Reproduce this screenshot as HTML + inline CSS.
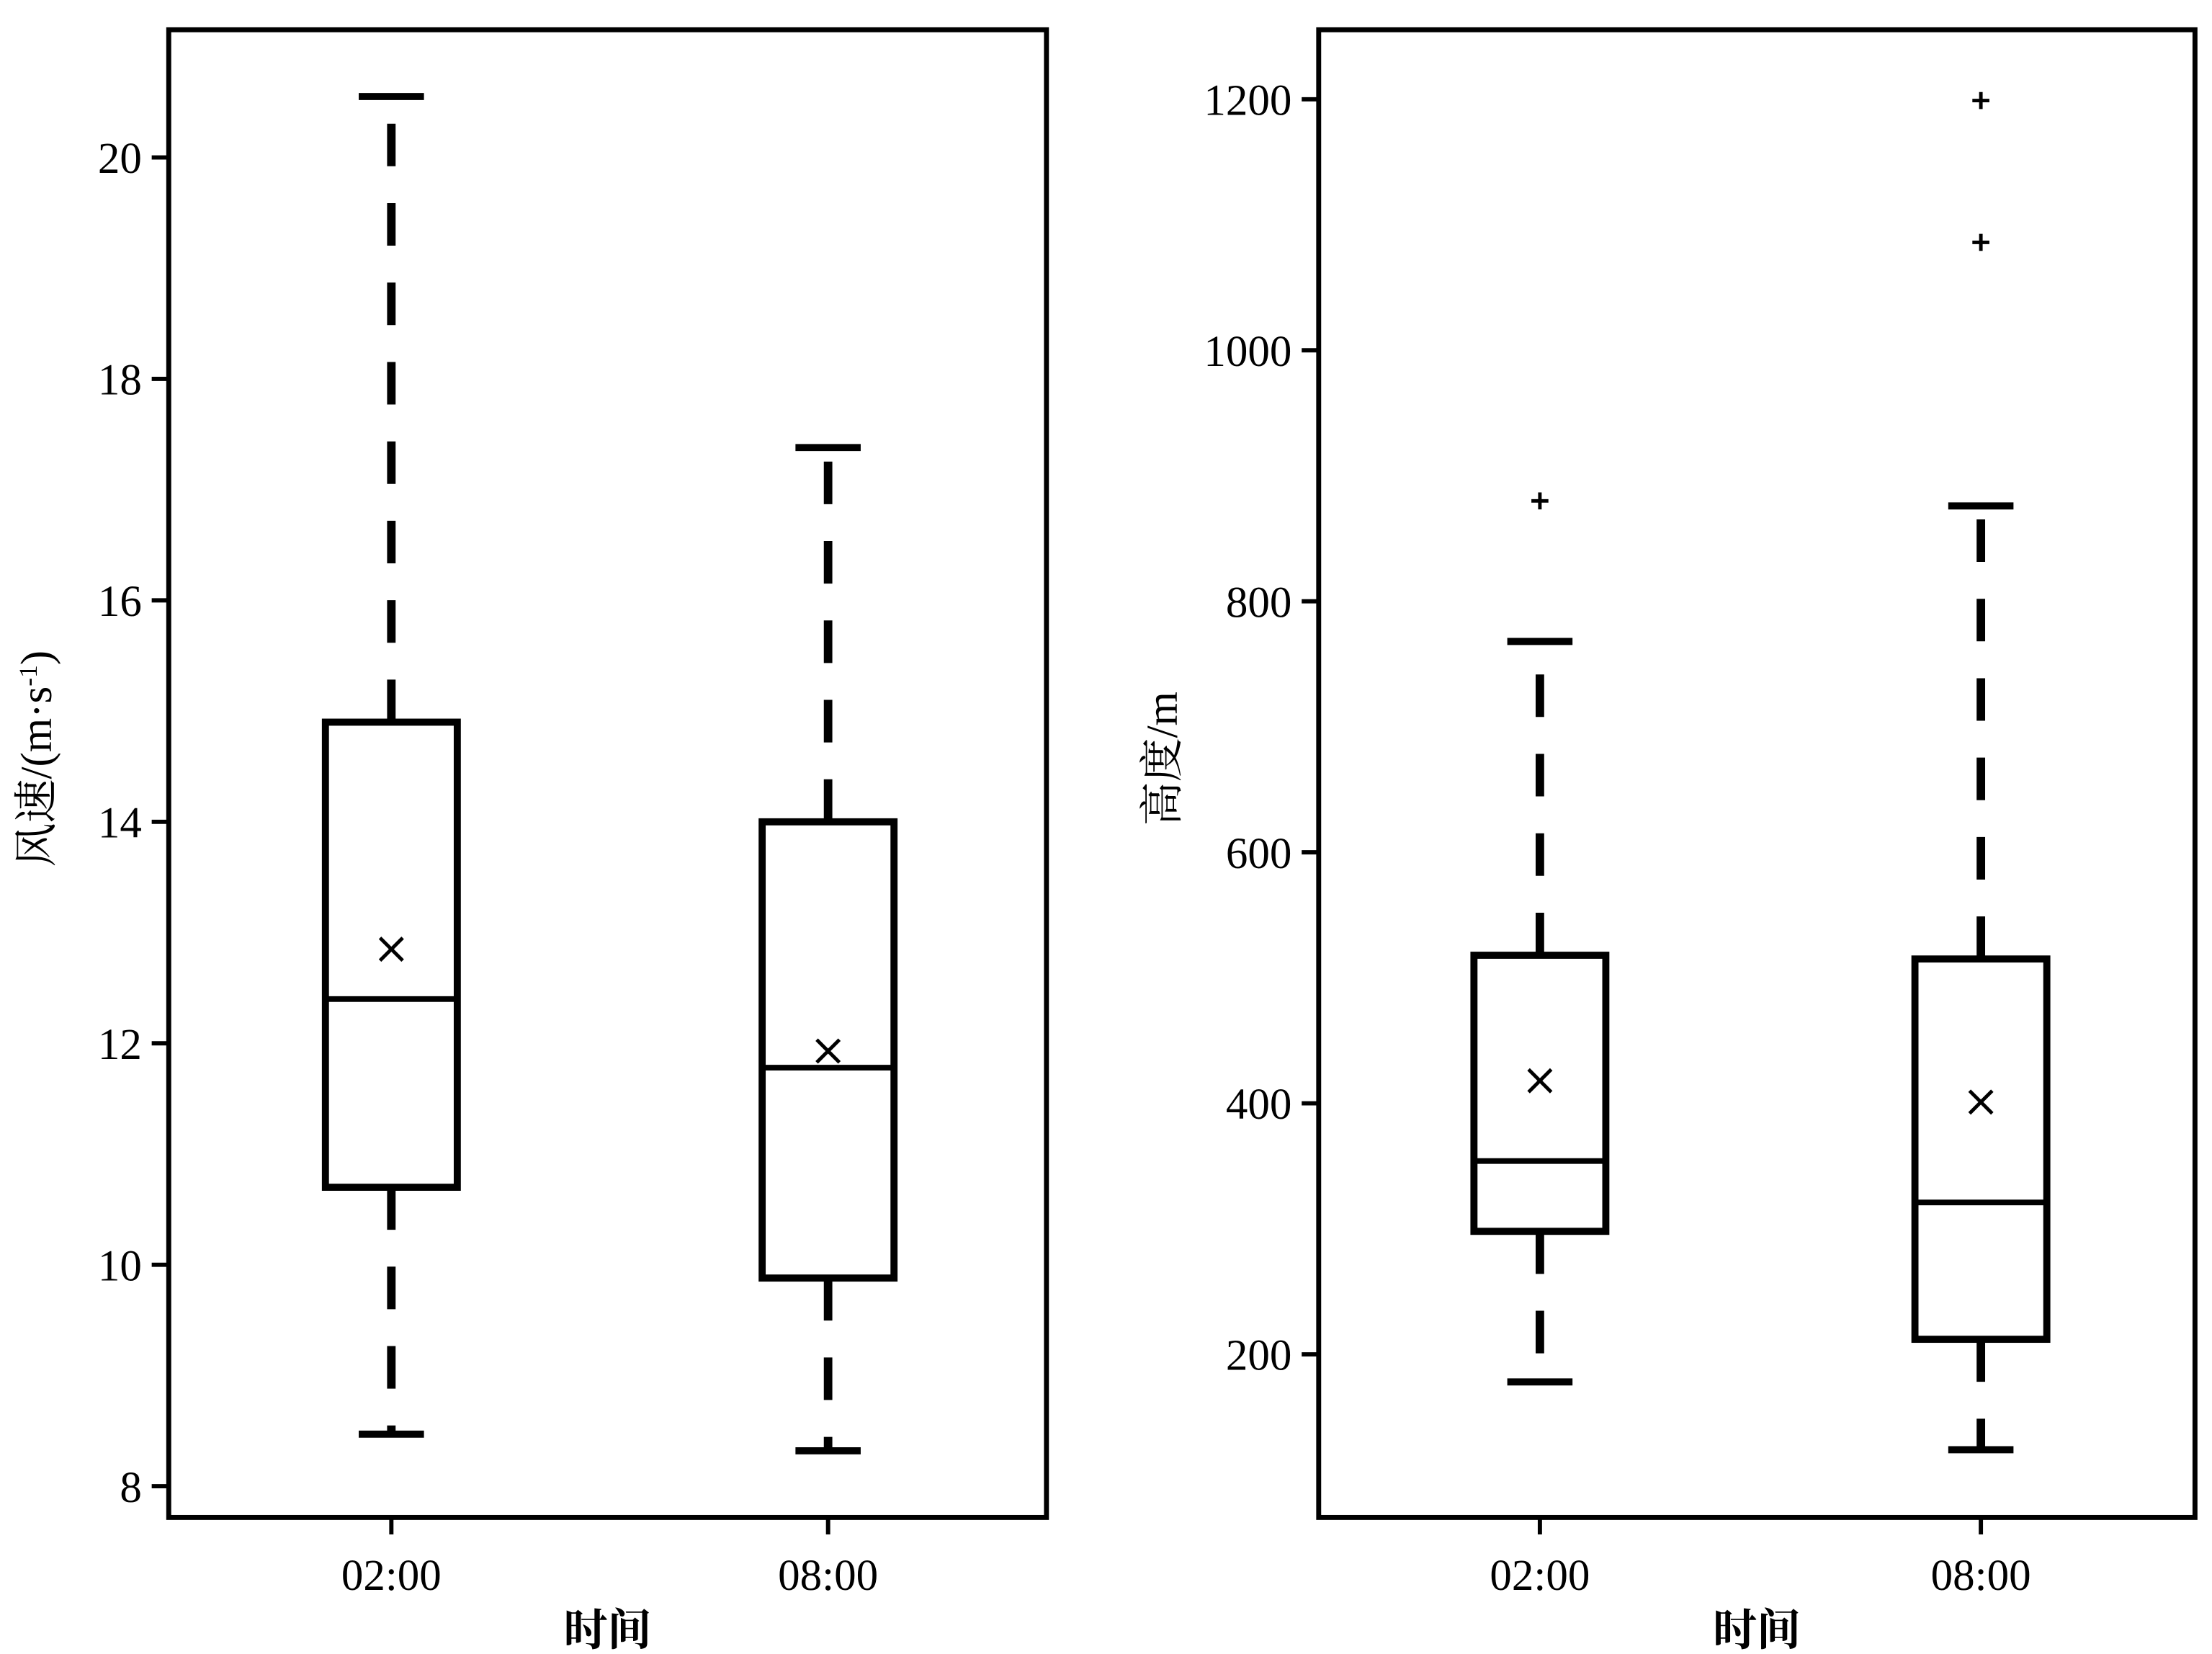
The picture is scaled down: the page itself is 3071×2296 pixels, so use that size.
<!DOCTYPE html>
<html><head><meta charset="utf-8"><style>
html,body{margin:0;padding:0;background:#fff;}
svg{display:block;}
text{font-family:"Liberation Serif","Noto Serif CJK SC",serif;fill:#000;}
</style></head><body>
<svg id="chart" width="3071" height="2296" viewBox="0 0 1560 1166.3" xmlns="http://www.w3.org/2000/svg"></svg>
<script>
const categories = ["02:00", "08:00"];
// Left panel: wind speed
const windTicks = [8, 10, 12, 14, 16, 18, 20];
const windQ1 = [10.7, 9.88];
const windMedian = [12.4, 11.78];
const windQ3 = [14.9, 14.0];
const windLow = [8.47, 8.32];
const windHigh = [20.55, 17.38];
const windMean = [12.85, 11.93];
const windOutliers = [[], []];
// Right panel: height
const heightTicks = [200, 400, 600, 800, 1000, 1200];
const heightQ1 = [298, 212];
const heightMedian = [354, 321];
const heightQ3 = [518, 515];
const heightLow = [178, 124];
const heightHigh = [768, 876];
const heightMean = [418, 401];
const heightOutliers = [[880], [1199, 1086]];

const NS = "http://www.w3.org/2000/svg";
const svg = document.getElementById("chart");
function mk(tag, attrs, parent) {
  const e = document.createElementNS(NS, tag);
  for (const k in attrs) e.setAttribute(k, attrs[k]);
  (parent || svg).appendChild(e);
  return e;
}

function panel(cfg) {
  const g = mk("g", {});
  
  
  const y = v => cfg.y0 + (v - cfg.v0) * (cfg.y1 - cfg.y0) / (cfg.v1 - cfg.v0);
  const x = i => cfg.cx[i];
  // frame
  const fr = mk("rect", {x: cfg.L, y: cfg.T, width: cfg.R - cfg.L, height: cfg.B - cfg.T, fill: "none", stroke: "#000", "stroke-width": 3.5}, g);
  
  
  // y ticks
  cfg.ticks.forEach(t => {
    const tk = mk("line", {x1: cfg.L - 12, x2: cfg.L, y1: y(t), y2: y(t), stroke: "#000", "stroke-width": 3}, g);
    
    
    const tl = mk("text", {x: cfg.L - 19, y: y(t) + 11, "text-anchor": "end", "font-size": 31}, g);
    
    
    tl.textContent = t;
  });
  // x ticks
  categories.forEach((c, i) => {
    const tk = mk("line", {x1: x(i), x2: x(i), y1: cfg.B, y2: cfg.B + 12, stroke: "#000", "stroke-width": 3}, g);
    
    
    const tl = mk("text", {x: x(i), y: 1121, "text-anchor": "middle", "font-size": 31}, g);
    
    
    tl.textContent = c;
  });
  const xt = mk("text", {x: (cfg.L + cfg.R) / 2, y: 1160, "text-anchor": "middle", "font-size": 31, "font-weight": "bold"}, g);
  
  
  xt.textContent = "时间";
  const yt = mk("text", {x: 0, y: 0, "text-anchor": "middle", "font-size": 31, transform: "translate(" + cfg.ytx + "," + cfg.yty + ") rotate(-90)"}, g);
  
  
  yt.innerHTML = cfg.ytitle;
  // boxes
  const hw = 46.5, cap = 23;
  categories.forEach((c, i) => {
    const bg = mk("g", {}, g);
    
    
    const ds = {stroke: "#000", "stroke-width": 6, "stroke-dasharray": "30 26"};
    const wu = mk("line", Object.assign({x1: x(i), x2: x(i), y1: y(cfg.q3[i]), y2: y(cfg.hi[i])}, ds), bg);
    
    
    const wl = mk("line", Object.assign({x1: x(i), x2: x(i), y1: y(cfg.q1[i]), y2: y(cfg.lo[i])}, ds), bg);
    
    
    const c1 = mk("line", {x1: x(i) - cap, x2: x(i) + cap, y1: y(cfg.hi[i]), y2: y(cfg.hi[i]), stroke: "#000", "stroke-width": 5}, bg);
    
    
    const c2 = mk("line", {x1: x(i) - cap, x2: x(i) + cap, y1: y(cfg.lo[i]), y2: y(cfg.lo[i]), stroke: "#000", "stroke-width": 5}, bg);
    
    
    const r = mk("rect", {x: x(i) - hw, y: y(cfg.q3[i]), width: 2 * hw, height: y(cfg.q1[i]) - y(cfg.q3[i]), fill: "#fff", stroke: "#000", "stroke-width": 5}, bg);
    
    
    const m = mk("line", {x1: x(i) - hw, x2: x(i) + hw, y1: y(cfg.med[i]), y2: y(cfg.med[i]), stroke: "#000", "stroke-width": 4}, bg);
    
    
    const my = y(cfg.mean[i]), s = 8;
    const mx = mk("path", {d: `M${x(i)-s},${my-s}L${x(i)+s},${my+s}M${x(i)+s},${my-s}L${x(i)-s},${my+s}`, stroke: "#000", "stroke-width": 2.5, fill: "none"}, bg);
    
    
    cfg.out[i].forEach(o => {
      const oy = y(o), p = 6;
      const om = mk("path", {d: `M${x(i)-p},${oy}L${x(i)+p},${oy}M${x(i)},${oy-p}L${x(i)},${oy+p}`, stroke: "#000", "stroke-width": 2.5, fill: "none"}, bg);
      
      
    });
  });
}

panel({name: "wind-speed-panel", L: 119, R: 738, T: 21, B: 1070, v0: 8, y0: 1048, v1: 20, y1: 111,
  cx: [276, 584], ticks: windTicks, q1: windQ1, med: windMedian, q3: windQ3, lo: windLow, hi: windHigh, mean: windMean, out: windOutliers,
  ytx: 36, yty: 535, ytitle: '风速/(m·s<tspan dy="-10" font-size="18">-1</tspan><tspan dy="10">)</tspan>'});
panel({name: "height-panel", L: 930, R: 1548, T: 21, B: 1070, v0: 200, y0: 955, v1: 1200, y1: 70,
  cx: [1086, 1397], ticks: heightTicks, q1: heightQ1, med: heightMedian, q3: heightQ3, lo: heightLow, hi: heightHigh, mean: heightMean, out: heightOutliers,
  ytx: 830, yty: 535, ytitle: '高度/m'});
</script>
</body></html>
